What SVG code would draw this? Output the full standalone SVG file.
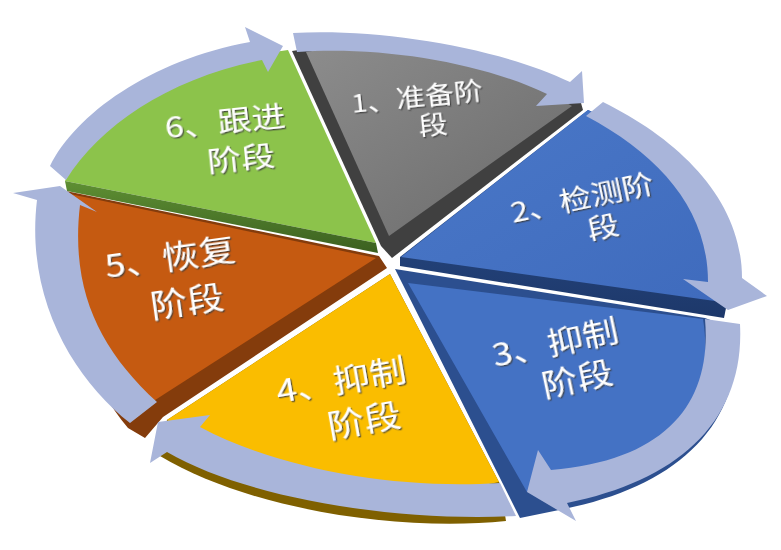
<svg xmlns="http://www.w3.org/2000/svg" width="781" height="550" viewBox="0 0 781 550">
<defs>
<style>
.arrow{fill:#A9B5DA}
.lbl{font-family:"Noto Sans CJK SC","Noto Sans",sans-serif;fill:#ffffff;text-anchor:middle;filter:url(#sh)}
</style>
<filter id="sh" x="-20%" y="-30%" width="140%" height="160%">
<feDropShadow dx="1.2" dy="1.6" stdDeviation="0.5" flood-color="#3a3a3a" flood-opacity="0.85"/>
</filter>
<linearGradient id="gGray" x1="0" y1="0" x2="1" y2="1">
<stop offset="0" stop-color="#8c8c8c"/><stop offset="1" stop-color="#6a6a6a"/>
</linearGradient>
<linearGradient id="gGreenSide" x1="0" y1="0" x2="0" y2="1">
<stop offset="0" stop-color="#5e8f33"/><stop offset="1" stop-color="#3b6020"/>
</linearGradient>
<linearGradient id="gB2" x1="0" y1="0" x2="1" y2="1">
<stop offset="0" stop-color="#4a78c8"/><stop offset="1" stop-color="#3f6bbd"/>
</linearGradient>
<linearGradient id="gB2side" x1="0" y1="0" x2="0" y2="1">
<stop offset="0" stop-color="#2f5597"/><stop offset="1" stop-color="#1d386a"/>
</linearGradient>
</defs>

<g id="stage1">
<path d="M292,51 C366,38 500,60 581,103 L583,110 L392,258 L381,246 Z" fill="#404040"/>
<path d="M306,52 C375,40 500,62 572,106 L389,236 Z" fill="url(#gGray)"/>
<text class="lbl" font-size="29" transform="translate(417,97) rotate(-6) scale(1,0.85)" y="11">1、准备阶</text>
<text class="lbl" font-size="29" transform="translate(433,125) rotate(-6) scale(1,0.85)" y="11">段</text>
</g>

<g id="stage6">
<path d="M65,181 C95,120 190,62 288,50 L376,243 Z" fill="#8CC34B"/>
<path d="M65,181 L376,243 L378,253 L67,191 Z" fill="url(#gGreenSide)"/>
<text class="lbl" font-size="34" transform="translate(225,121) rotate(-6) scale(1,0.85)" y="13">6、跟进</text>
<text class="lbl" font-size="34" transform="translate(241,158) rotate(-6) scale(1,0.85)" y="13">阶段</text>
</g>

<g id="stage5">
<path d="M66,191 L379,256 L387,268 L163,417 L145,438 L128,428 C80,370 50,280 66,191 Z" fill="#843C0C"/>
<path d="M70,194 L376,258 L152,402 C92,350 56,272 70,194 Z" fill="#C55A11"/>
<text class="lbl" font-size="37" transform="translate(170,257) rotate(-8) scale(1,0.85)" y="14">5、恢复</text>
<text class="lbl" font-size="37" transform="translate(187,301) rotate(-8) scale(1,0.85)" y="14">阶段</text>
</g>

<g id="stage4">
<path d="M390,274 L500,484 L506,521 C400,532 250,510 160,456 L167,420 Z" fill="#7F6000"/>
<path d="M390,274 L499,482 C420,500 250,480 167,420 Z" fill="#FABD00"/>
<text class="lbl" font-size="37" transform="translate(341,380) rotate(-10) scale(1,0.85)" y="14">4、抑制</text>
<text class="lbl" font-size="37" transform="translate(364,420) rotate(-10) scale(1,0.85)" y="14">阶段</text>
</g>

<g id="stage2">
<path d="M588,110 C655,140 735,215 726,308 L724,318 L400,266 L400,257 Z" fill="url(#gB2side)"/>
<path d="M588,110 C655,140 732,215 722,302 L401,257 Z" fill="url(#gB2)"/>
<text class="lbl" font-size="32" transform="translate(582,198) rotate(-12) scale(1,0.85)" y="12">2、检测阶</text>
<text class="lbl" font-size="32" transform="translate(603,227) rotate(-12) scale(1,0.85)" y="12">段</text>
</g>

<g id="stage3">
<path d="M395,269 L705,318 L737,330 C742,426 677,486 564,509 L520,518 Z" fill="#2C4F8F"/>
<path d="M408,283 L703,319 C716,402 676,466 555,476 L527,492 Z" fill="#4472C4"/>
<text class="lbl" font-size="36" transform="translate(555,342) rotate(-12) scale(1,0.85)" y="14">3、抑制</text>
<text class="lbl" font-size="36" transform="translate(577,378) rotate(-12) scale(1,0.85)" y="14">阶段</text>
</g>

<g id="arrows">
<path id="arrow1" class="arrow" d="M293,33 C380,28 500,48 570,82 L582,71 L584,103 L536,106 L547,94 C480,62 380,46 297,52 Z"/>
<path id="arrow2" class="arrow" d="M603,102 C680,140 742,200 742,278 L767,296 L728,310 L683,279 L708,282 C708,210 660,155 586,116 Z"/>
<path id="arrow3" class="arrow" d="M740,324 C745,420 680,480 567,503 L576,521 L527,492 L538,450 L551,470 C670,460 712,400 705,319 Z"/>
<path id="arrow4" class="arrow" d="M500,483 C400,490 280,470 200,427 L210,415 L158,422 L150,463 L167,452 C250,500 400,522 516,516 Z"/>
<path id="arrow5" class="arrow" d="M130,423 C75,380 25,300 37,200 L13,193 L60,186 L97,212 L80,205 C70,290 100,350 157,402 Z"/>
<path id="arrow6" class="arrow" d="M50,166 C75,115 150,60 250,42 L245,27 L283,46 L268,72 L262,60 C170,78 100,125 66,180 Z"/>
</g>
</svg>
